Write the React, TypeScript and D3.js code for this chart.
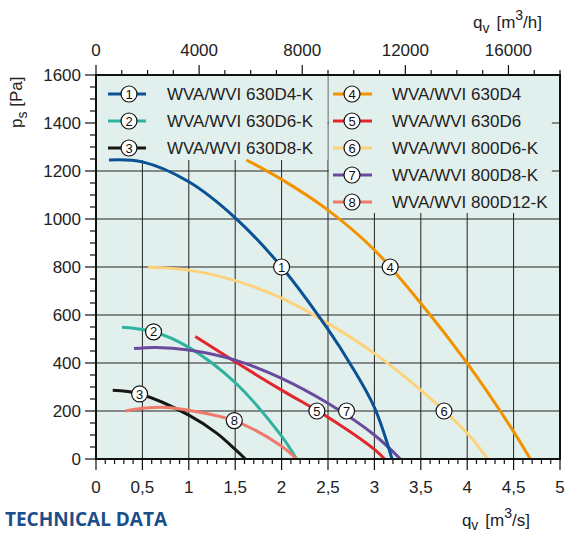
import React from "react";
import * as d3 from "d3";

const W = 567;
const H = 535;

const seriesNames = [
  "WVA/WVI 630D4-K",
  "WVA/WVI 630D6-K",
  "WVA/WVI 630D8-K",
  "WVA/WVI 630D4",
  "WVA/WVI 630D6",
  "WVA/WVI 800D6-K",
  "WVA/WVI 800D8-K",
  "WVA/WVI 800D12-K",
];

// q [m3/s], ps [Pa]
const curve1 = [[0.14, 1246], [0.5, 1238], [1.0, 1155], [1.5, 1005], [2.0, 800], [2.5, 540], [2.75, 390], [3.0, 215], [3.19, 0]];
const curve2 = [[0.28, 549], [0.62, 530], [1.0, 465], [1.5, 318], [2.0, 95], [2.16, 0]];
const curve3 = [[0.18, 286], [0.47, 271], [1.0, 183], [1.3, 108], [1.5, 40], [1.61, 0]];
const curve4 = [[1.62, 1246], [2.0, 1165], [2.5, 1037], [3.0, 871], [3.5, 649], [4.0, 399], [4.5, 114], [4.68, 0]];
const curve5 = [[1.07, 510], [1.5, 405], [2.0, 287], [2.5, 174], [3.0, 40], [3.11, 0]];
const curve6 = [[0.56, 799], [1.0, 787], [1.5, 743], [2.0, 670], [2.5, 565], [3.0, 440], [3.5, 287], [4.0, 107], [4.22, 0]];
const curve7 = [[0.41, 460], [0.65, 465], [1.0, 454], [1.5, 412], [2.0, 336], [2.5, 232], [3.0, 100], [3.28, 0]];
const curve8 = [[0.32, 200], [0.5, 211], [0.76, 215], [1.0, 203], [1.5, 158], [2.0, 53], [2.16, 0]];

const curves = [curve1, curve2, curve3, curve4, curve5, curve6, curve7, curve8];

// label circle positions on curves
const labelPoints = [[2.0, 800], [0.62, 530], [0.47, 271], [3.17, 800], [2.38, 200], [3.75, 200], [2.7, 200], [1.49, 160]];

const yTicks = [0, 200, 400, 600, 800, 1000, 1200, 1400, 1600];
const xTicks = [0, 0.5, 1, 1.5, 2, 2.5, 3, 3.5, 4, 4.5, 5];
const xTickLabels = ["0", "0,5", "1", "1,5", "2", "2,5", "3", "3,5", "4", "4,5", "5"];
const topTicks = [0, 4000, 8000, 12000, 16000];

const colors = ["#0a5195", "#2fb39f", "#161616", "#f39200", "#e3262b", "#fdd27c", "#6a4a9c", "#ef7a6b"];
const drawOrder = [5, 1, 2, 7, 4, 6, 0, 3];

const BG = "#e2f0ed";
const FONT = "'Liberation Sans', Arial, sans-serif";

export default function App() {
  const x = d3.scaleLinear().domain([0, 5]).range([96, 560]);
  const y = d3.scaleLinear().domain([0, 1600]).range([459, 75]);
  const xTop = d3.scaleLinear().domain([0, 18000]).range([96, 560]);

  const line = d3
    .line<number[]>()
    .x((d) => x(d[0]))
    .y((d) => y(d[1]))
    .curve(d3.curveCatmullRom.alpha(0.5));

  const yMinor = d3.range(0, 1601, 50);
  const xMinor = d3.range(0, 51, 1).map((v) => v / 10);
  const topMinor = d3.range(0, 18001, 1000);

  const legendRows = seriesNames.map((name, i) => {
    const col = i < 3 ? 0 : 1;
    const row = i < 3 ? i : i - 3;
    return { name, i, col, row };
  });

  const Badge = ({ cx, cy, n }: { cx: number; cy: number; n: number }) => (
    <g>
      <circle cx={cx} cy={cy} r={8} fill="#fff" stroke="#111" strokeWidth={1.2} />
      <text x={cx} y={cy} dy="0.36em" textAnchor="middle" fontSize={13} fontFamily={FONT} fill="#111">
        {n}
      </text>
    </g>
  );

  return (
    <svg width={W} height={H} style={{ position: "absolute", left: 0, top: 0 }} xmlns="http://www.w3.org/2000/svg">
      <rect x={0} y={0} width={W} height={H} fill="#fff" />
      <rect x={x(0)} y={y(1600)} width={x(5) - x(0)} height={y(0) - y(1600)} fill={BG} />

      {/* grid */}
      {xTicks.slice(1, -1).map((v) => (
        <line key={"gx" + v} x1={x(v)} x2={x(v)} y1={y(0)} y2={y(1600)} stroke="#222" strokeWidth={1} />
      ))}
      {yTicks.slice(1, -1).map((v) => (
        <line key={"gy" + v} x1={x(0)} x2={x(5)} y1={y(v)} y2={y(v)} stroke="#222" strokeWidth={1} />
      ))}

      {/* legend backgrounds */}
      <rect x={x(0) + 1} y={y(1600) + 1} width={x(2.5) - x(0) - 1.5} height={159 - y(1600)} fill={BG} />
      <rect x={x(2.5) + 0.8} y={y(1600) + 1} width={551 - x(2.5)} height={212 - y(1600)} fill={BG} />

      {/* curves */}
      {drawOrder.map((i) => (
        <path key={"c" + i} d={line(curves[i]) || ""} fill="none" stroke={colors[i]} strokeWidth={3} />
      ))}
      {labelPoints.map((p, i) => (
        <Badge key={"b" + i} cx={x(p[0])} cy={y(p[1])} n={i + 1} />
      ))}

      {/* legend */}
      {legendRows.map((r) => {
        const cy = 94 + r.row * 27;
        const x1 = r.col === 0 ? 108 : 333;
        const x2 = r.col === 0 ? 146 : 372;
        const cx = r.col === 0 ? 129 : 352;
        const tx = r.col === 0 ? 167 : 392;
        return (
          <g key={"l" + r.i}>
            <line x1={x1} x2={x2} y1={cy} y2={cy} stroke={colors[r.i]} strokeWidth={3} />
            <Badge cx={cx} cy={cy} n={r.i + 1} />
            <text x={tx} y={cy} dy="0.36em" fontSize={17} fontFamily={FONT} fill="#222">
              {r.name}
            </text>
          </g>
        );
      })}

      {/* frame */}
      <rect x={x(0)} y={y(1600)} width={x(5) - x(0)} height={y(0) - y(1600)} fill="none" stroke="#111" strokeWidth={2} />

      {/* left axis ticks */}
      {yMinor.map((v) => (
        <line key={"yt" + v} x1={x(0) - (v % 200 === 0 ? 11 : 6)} x2={x(0)} y1={y(v)} y2={y(v)} stroke="#111" strokeWidth={1.2} />
      ))}
      {yTicks.map((v) => (
        <text key={"yl" + v} x={81} y={y(v)} dy="0.36em" textAnchor="end" fontSize={17} fontFamily={FONT} fill="#222">
          {v}
        </text>
      ))}

      {/* bottom axis ticks */}
      {xMinor.map((v) => {
        const major = Math.abs(v * 2 - Math.round(v * 2)) < 1e-6;
        return (
          <line key={"xt" + v} x1={x(v)} x2={x(v)} y1={y(0)} y2={y(0) + (major ? 11 : 5)} stroke="#111" strokeWidth={1.2} />
        );
      })}
      {xTicks.map((v, i) => (
        <text key={"xl" + v} x={x(v)} y={493} textAnchor="middle" fontSize={17} fontFamily={FONT} fill="#222">
          {xTickLabels[i]}
        </text>
      ))}

      {/* top axis ticks */}
      {topMinor.map((v) => (
        <line key={"tt" + v} x1={xTop(v)} x2={xTop(v)} y1={y(1600)} y2={y(1600) - (v % 4000 === 0 ? 10 : 5)} stroke="#111" strokeWidth={1.2} />
      ))}
      {topTicks.map((v) => (
        <text key={"tl" + v} x={xTop(v)} y={56} textAnchor="middle" fontSize={17} fontFamily={FONT} fill="#222">
          {v}
        </text>
      ))}

      {/* axis titles */}
      <text x={542} y={28} textAnchor="end" fontSize={17} fontFamily={FONT} fill="#222">
        q<tspan fontSize={14} dy={5}>v</tspan>
        <tspan dy={-5} dx={7}>{"[m"}</tspan>
        <tspan fontSize={14} dy={-8}>3</tspan>
        <tspan dy={8}>/h]</tspan>
      </text>
      <text x={530} y={526} textAnchor="end" fontSize={17} fontFamily={FONT} fill="#222">
        q<tspan fontSize={14} dy={4}>v</tspan>
        <tspan dy={-4} dx={7}>{"[m"}</tspan>
        <tspan fontSize={14} dy={-8}>3</tspan>
        <tspan dy={8}>/s]</tspan>
      </text>
      <text transform="translate(22,128) rotate(-90)" fontSize={17} fontFamily={FONT} fill="#222">
        p<tspan fontSize={14} dy={5}>s</tspan>
        <tspan dy={-5}>{" [Pa]"}</tspan>
      </text>

      <text x={5} y={526} fontSize={20} fontWeight={700} fontFamily="'Open Sans', 'DejaVu Sans', sans-serif" fill="#1b4e8b" textLength={162} lengthAdjust="spacingAndGlyphs">
        TECHNICAL DATA
      </text>
    </svg>
  );
}
